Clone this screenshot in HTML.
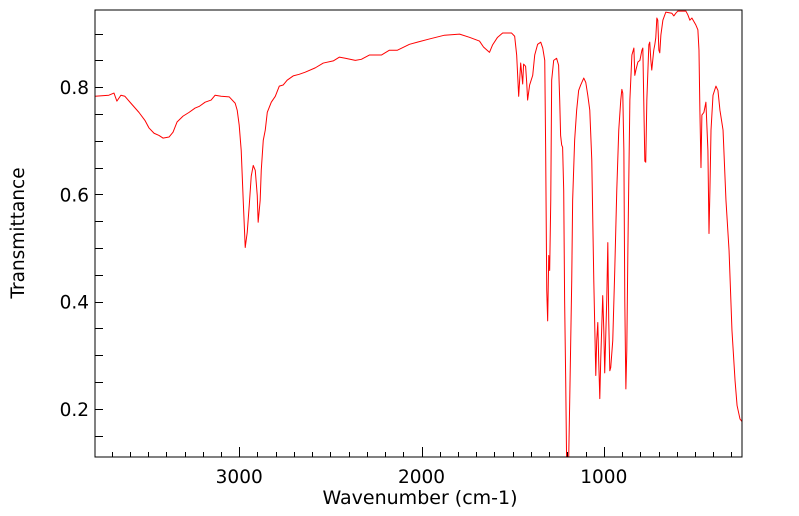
<!DOCTYPE html>
<html><head><meta charset="utf-8"><style>
html,body{margin:0;padding:0;background:#fff;width:799px;height:516px;overflow:hidden}
text{font-family:"DejaVu Sans","Liberation Sans",sans-serif;fill:#000}
</style></head><body>
<svg id="chart" width="799" height="516" viewBox="0 0 799 516" xmlns="http://www.w3.org/2000/svg">
<defs><clipPath id="plotclip"><rect x="95" y="10" width="647" height="447"/></clipPath></defs>
<g id="axes"></g>
<path id="spectrum" clip-path="url(#plotclip)" fill="none" stroke="#ff0000" stroke-width="1" stroke-linejoin="round"/>
<rect x="95" y="10" width="647" height="447" fill="none" stroke="#000" stroke-width="1"/>
<text x="420" y="504" font-size="19" text-anchor="middle">Wavenumber (cm-1)</text>
<text transform="translate(24,233) rotate(-90)" font-size="18.5" text-anchor="middle">Transmittance</text>
</svg>
<script>
const wavenumbers=[3791,3715,3687,3671,3649,3627,3594,3550,3517,3495,3467,3440,3418,3385,3363,3341,3308,3275,3242,3220,3187,3154,3132,3099,3055,3022,3011,3000,2989,2978,2967,2956,2945,2934,2923,2912,2901,2896,2885,2879,2868,2857,2846,2824,2802,2780,2759,2737,2704,2671,2638,2583,2539,2484,2451,2418,2363,2330,2286,2220,2176,2132,2066,2022,1956,1874,1791,1737,1682,1660,1627,1610,1583,1555,1506,1489,1478,1467,1456,1445,1440,1429,1423,1418,1407,1390,1379,1363,1346,1335,1324,1319,1313,1308,1302,1297,1291,1286,1275,1259,1248,1242,1237,1231,1226,1220,1215,1209,1204,1193,1187,1176,1171,1160,1149,1138,1127,1110,1099,1088,1077,1066,1055,1044,1039,1033,1028,1022,1017,1006,1000,995,984,978,973,967,962,951,940,929,918,907,901,896,890,885,879,874,868,863,857,846,835,830,824,813,802,791,786,775,770,764,753,748,742,737,726,720,715,709,704,698,693,687,676,660,627,616,605,594,550,539,528,517,495,484,478,473,467,462,451,440,429,423,418,412,401,385,374,363,346,330,313,297,280,269,253,242];
const transmittance=[0.783,0.785,0.789,0.774,0.785,0.783,0.770,0.753,0.738,0.724,0.714,0.710,0.705,0.707,0.716,0.735,0.746,0.753,0.761,0.764,0.772,0.776,0.785,0.783,0.782,0.770,0.757,0.729,0.682,0.589,0.501,0.529,0.579,0.634,0.654,0.645,0.598,0.548,0.589,0.645,0.701,0.720,0.753,0.772,0.783,0.802,0.804,0.813,0.821,0.824,0.828,0.836,0.845,0.849,0.856,0.854,0.850,0.852,0.860,0.860,0.869,0.869,0.880,0.884,0.890,0.897,0.899,0.893,0.886,0.875,0.865,0.879,0.893,0.901,0.901,0.895,0.860,0.783,0.845,0.806,0.843,0.839,0.809,0.776,0.804,0.822,0.860,0.880,0.884,0.873,0.850,0.682,0.421,0.364,0.486,0.458,0.589,0.813,0.850,0.854,0.841,0.776,0.710,0.692,0.688,0.607,0.402,0.252,0.100,0.100,0.215,0.439,0.589,0.701,0.757,0.794,0.804,0.817,0.809,0.785,0.757,0.664,0.439,0.262,0.327,0.361,0.290,0.219,0.290,0.411,0.346,0.267,0.402,0.510,0.364,0.271,0.277,0.327,0.458,0.607,0.720,0.776,0.796,0.789,0.682,0.402,0.237,0.308,0.495,0.626,0.776,0.860,0.873,0.822,0.832,0.847,0.850,0.869,0.873,0.662,0.660,0.776,0.879,0.884,0.850,0.832,0.869,0.880,0.892,0.929,0.925,0.869,0.864,0.897,0.925,0.940,0.938,0.933,0.938,0.942,0.942,0.935,0.925,0.929,0.916,0.907,0.869,0.757,0.650,0.748,0.753,0.772,0.682,0.527,0.607,0.720,0.785,0.802,0.794,0.757,0.720,0.589,0.495,0.346,0.252,0.206,0.181,0.176];
const xMajorTicks=[3000,2000,1000];
const xTickLabels=["3000","2000","1000"];
const yMajorTicks=[0.2,0.4,0.6,0.8];
const yTickLabels=["0.2","0.4","0.6","0.8"];

const X0=95,X1=742,Y0=10,Y1=457;
const W_MAX=3791,W_MIN=242,V_MAX=0.944,V_MIN=0.110;
function xScale(w){return X0+(W_MAX-w)/(W_MAX-W_MIN)*(X1-X0);}
function yScale(v){return Y1-(v-V_MIN)/(V_MAX-V_MIN)*(Y1-Y0);}
const NS="http://www.w3.org/2000/svg";
const axes=document.getElementById('axes');
function line(x1,y1,x2,y2,name){
  const l=document.createElementNS(NS,'line');
  l.setAttribute('x1',x1);l.setAttribute('y1',y1);l.setAttribute('x2',x2);l.setAttribute('y2',y2);
  l.setAttribute('stroke','#000');l.setAttribute('stroke-width','1');
  
  
  axes.appendChild(l);
}
for(let w=300;w<=3700;w+=100){
  const x=Math.round(xScale(w))+0.5;
  const len=(w%1000===0)?10:5;
  line(x,Y1,x,Y1-len,'x-tick');
}
for(let k=3;k<=18;k++){
  const v=k*0.05;
  if(v<V_MIN||v>V_MAX) continue;
  const y=Math.round(yScale(v))+0.5;
  line(X0,y,X0+8,y,'y-tick');
}
xMajorTicks.forEach((w,i)=>{
  const t=document.createElementNS(NS,'text');
  t.setAttribute('x',xScale(w));t.setAttribute('y',483);
  t.setAttribute('font-size','18.5');t.setAttribute('text-anchor','middle');
  t.textContent=xTickLabels[i];
  
  
  axes.appendChild(t);
});
yMajorTicks.forEach((v,i)=>{
  const t=document.createElementNS(NS,'text');
  t.setAttribute('x',89);t.setAttribute('y',yScale(v)+7);
  t.setAttribute('font-size','18.5');t.setAttribute('text-anchor','end');
  t.textContent=yTickLabels[i];
  
  
  axes.appendChild(t);
});
let d='';
wavenumbers.forEach((w,i)=>{d+=(i?'L':'M')+xScale(w).toFixed(2)+','+yScale(transmittance[i]).toFixed(2);});
document.getElementById('spectrum').setAttribute('d',d);
</script>
</body></html>
